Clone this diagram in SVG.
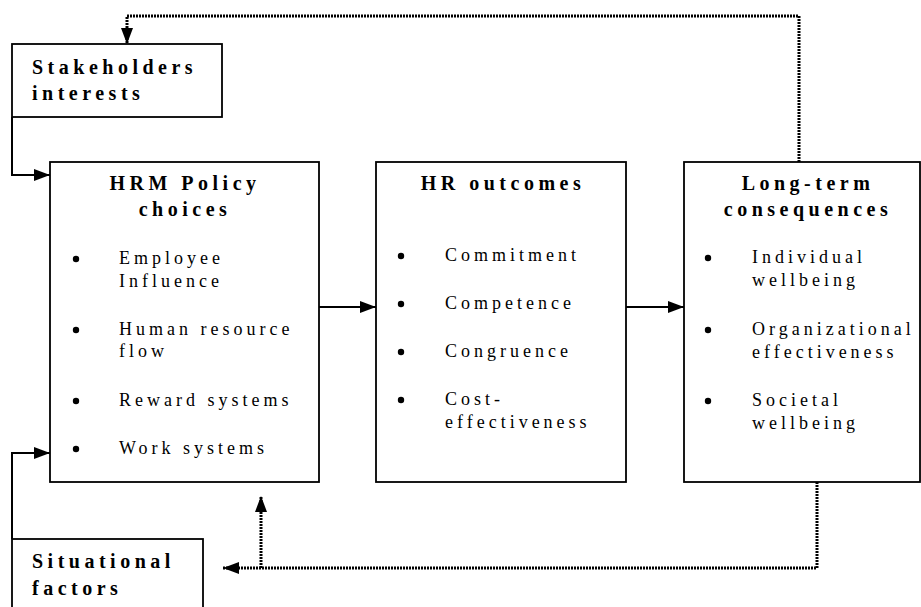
<svg xmlns="http://www.w3.org/2000/svg" width="921" height="607" viewBox="0 0 921 607">
  <style>
    .box { fill: #ffffff; stroke: #000000; stroke-width: 1.8; }
    .title { font-family: "Liberation Serif", "Times New Roman", serif; font-weight: bold; font-size: 20px; letter-spacing: 4.5px; fill: #000000; }
    .item { font-family: "Liberation Serif", "Times New Roman", serif; font-size: 18px; letter-spacing: 4px; fill: #000000; }
    .dot { fill: #000000; }
    .solid { fill: none; stroke: #000000; stroke-width: 2; }
    .dotted { fill: none; stroke: #000000; stroke-width: 3; stroke-dasharray: 2 1; }
  </style>
  <defs>
    <marker id="arrow" markerUnits="userSpaceOnUse" markerWidth="16" markerHeight="12" refX="16" refY="6" orient="auto">
      <path d="M0,0 L16,6 L0,12 z" fill="#000000"/>
    </marker>
  </defs>

  <rect width="921" height="607" fill="#ffffff"/>

  <!-- connectors -->
  <g id="connectors">
    <!-- stakeholders -> policy -->
    <path class="solid" d="M12,117 V175 H50" marker-end="url(#arrow)"/>
    <!-- situational factors -> policy -->
    <path class="solid" d="M12,539 V453 H50" marker-end="url(#arrow)"/>
    <!-- policy -> outcomes -> consequences -->
    <path class="solid" d="M319,307 H376" marker-end="url(#arrow)"/>
    <path class="solid" d="M626,307 H684" marker-end="url(#arrow)"/>
    <!-- feedback to stakeholders -->
    <path class="dotted" d="M799,162 V16 H127 V44" marker-end="url(#arrow)"/>
    <!-- feedback to situational factors -->
    <path class="dotted" d="M817,482 V568 H223" marker-end="url(#arrow)"/>
    <!-- feedback to policy choices -->
    <path class="dotted" d="M261,568 V496" marker-end="url(#arrow)"/>
  </g>

  <g id="stakeholders">
    <rect class="box" x="12" y="44" width="210" height="73"/>
    <text class="title" x="32" y="74">Stakeholders</text>
    <text class="title" x="32" y="100">interests</text>
  </g>

  <g id="situational">
    <rect class="box" x="12" y="539" width="191" height="80"/>
    <text class="title" x="32" y="568">Situational</text>
    <text class="title" x="32" y="595">factors</text>
  </g>

  <g id="policy">
    <rect class="box" x="50" y="162" width="269" height="320"/>
    <text class="title" x="185" y="190" text-anchor="middle">HRM Policy</text>
    <text class="title" x="185" y="216" text-anchor="middle">choices</text>
    <circle class="dot" cx="76" cy="259" r="3.2"/>
    <text class="item" x="119" y="264">Employee</text>
    <text class="item" x="119" y="287">Influence</text>
    <circle class="dot" cx="76" cy="330" r="3.2"/>
    <text class="item" x="119" y="335">Human resource</text>
    <text class="item" x="119" y="357">flow</text>
    <circle class="dot" cx="76" cy="401" r="3.2"/>
    <text class="item" x="119" y="406">Reward systems</text>
    <circle class="dot" cx="76" cy="449" r="3.2"/>
    <text class="item" x="119" y="454">Work systems</text>
  </g>

  <g id="outcomes">
    <rect class="box" x="376" y="162" width="250" height="320"/>
    <text class="title" x="503" y="190" text-anchor="middle">HR outcomes</text>
    <circle class="dot" cx="401" cy="256" r="3.2"/>
    <text class="item" x="445" y="261">Commitment</text>
    <circle class="dot" cx="401" cy="304" r="3.2"/>
    <text class="item" x="445" y="309">Competence</text>
    <circle class="dot" cx="401" cy="352" r="3.2"/>
    <text class="item" x="445" y="357">Congruence</text>
    <circle class="dot" cx="401" cy="400" r="3.2"/>
    <text class="item" x="445" y="405">Cost-</text>
    <text class="item" x="445" y="428">effectiveness</text>
  </g>

  <g id="consequences">
    <rect class="box" x="684" y="162" width="236" height="320"/>
    <text class="title" x="808" y="190" text-anchor="middle">Long-term</text>
    <text class="title" x="808" y="216" text-anchor="middle">consequences</text>
    <circle class="dot" cx="708" cy="258" r="3.2"/>
    <text class="item" x="752" y="263">Individual</text>
    <text class="item" x="752" y="286">wellbeing</text>
    <circle class="dot" cx="708" cy="330" r="3.2"/>
    <text class="item" x="752" y="335">Organizational</text>
    <text class="item" x="752" y="358">effectiveness</text>
    <circle class="dot" cx="708" cy="401" r="3.2"/>
    <text class="item" x="752" y="406">Societal</text>
    <text class="item" x="752" y="429">wellbeing</text>
  </g>
</svg>
